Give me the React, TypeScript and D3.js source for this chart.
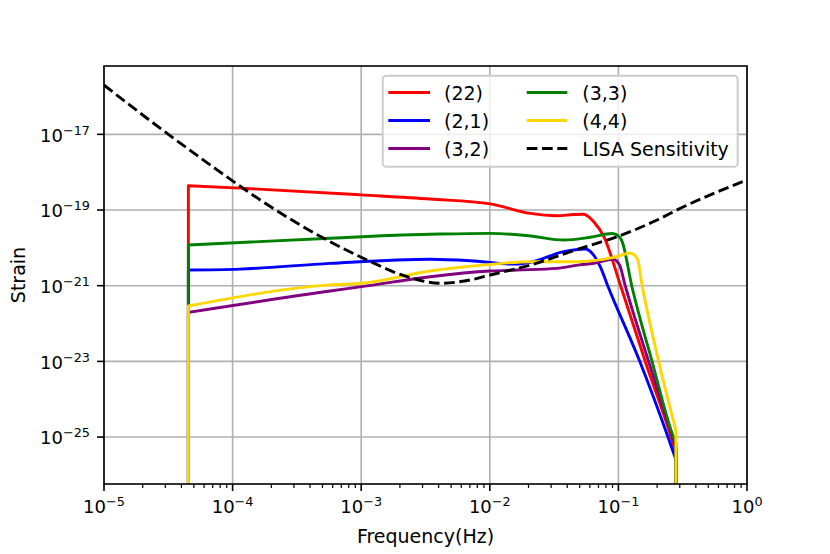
import React from 'react';
import * as d3 from 'd3';

const W = 830;
const H = 554;
const PLOT = { left: 104, top: 66, right: 747, bottom: 484 };

const xDomain = [1e-5, 1];
const yDomain = [5.75e-27, 6.4e-16];

const xTickValues = [1e-5, 1e-4, 1e-3, 1e-2, 1e-1, 1];
const xTickExps = ['−5', '−4', '−3', '−2', '−1', '0'];
const yTickValues = [1e-17, 1e-19, 1e-21, 1e-23, 1e-25];
const yTickExps = ['−17', '−19', '−21', '−23', '−25'];

// (22)
const f22 = [4.53e-5, 1.14e-4, 1.01e-3, 3.44e-3, 1.01e-2, 2.07e-2, 3.33e-2, 4.47e-2, 5.37e-2, 6.43e-2, 7.69e-2, 1.04e-1, 0.162, 0.257, 0.28];
const h22 = [4.39e-19, 3.8e-19, 2.51e-19, 1.95e-19, 1.45e-19, 8.13e-20, 7.08e-20, 7.59e-20, 7.76e-20, 4.9e-20, 2.0e-20, 1.0e-21, 9.77e-24, 1.0e-25, 3.8e-26];
// (2,1)
const f21 = [4.53e-5, 1.14e-4, 5.74e-4, 3.44e-3, 7.05e-3, 1.53e-2, 2.07e-2, 3.75e-2, 5.53e-2, 6.24e-2, 7.24e-2, 8.26e-2, 0.147, 0.243, 0.28];
const h21 = [2.6e-21, 2.75e-21, 3.89e-21, 5.01e-21, 4.57e-21, 3.72e-21, 4.17e-21, 7.94e-21, 9.33e-21, 7.24e-21, 3.16e-21, 1.0e-21, 9.77e-24, 1.0e-25, 2.51e-26];
// (3,2)
const f32 = [4.53e-5, 5.74e-4, 1.01e-3, 3.44e-3, 1.01e-2, 1.63e-2, 3.33e-2, 5.01e-2, 6.43e-2, 9.12e-2, 0.102, 0.113, 0.172, 0.263, 0.28];
const h32 = [1.98e-22, 7.24e-22, 9.42e-22, 1.73e-21, 2.44e-21, 2.6e-21, 2.88e-21, 3.55e-21, 3.91e-21, 5.01e-21, 3.55e-21, 1.0e-21, 9.77e-24, 1.0e-25, 5.13e-26];
// (3,3)
const f33 = [4.53e-5, 5.74e-4, 1.01e-3, 4.12e-3, 1.01e-2, 2.07e-2, 3.75e-2, 6.05e-2, 8.93e-2, 9.77e-2, 0.107, 0.127, 0.183, 0.268, 0.28];
const h33 = [1.19e-20, 1.79e-20, 1.97e-20, 2.32e-20, 2.42e-20, 2.06e-20, 1.61e-20, 1.91e-20, 2.4e-20, 2.19e-20, 1.46e-20, 1.0e-21, 9.77e-24, 1.0e-25, 6.92e-26];
// (4,4)
const f44 = [4.53e-5, 5.74e-4, 1.01e-3, 3.44e-3, 1.01e-2, 2.07e-2, 4.76e-2, 9.18e-2, 0.124, 0.14, 0.153, 0.206, 0.28];
const h44 = [2.91e-22, 1.05e-21, 1.16e-21, 2.44e-21, 3.67e-21, 4.31e-21, 4.31e-21, 5.62e-21, 7.18e-21, 5.3e-21, 1.0e-21, 9.77e-24, 1.51e-25];
// LISA sensitivity
const fLisa = [1e-5, 2.89e-5, 7.53e-5, 1.64e-4, 5.41e-4, 1.11e-3, 2.27e-3, 4.12e-3, 7.05e-3, 1.01e-2, 2.07e-2, 5.06e-2, 9.77e-2, 0.2, 0.303, 1];
const hLisa = [2.0e-16, 1.26e-17, 1.17e-18, 1.84e-19, 1.61e-20, 4.78e-21, 1.73e-21, 1.16e-21, 1.42e-21, 1.92e-21, 3.52e-21, 9.73e-21, 1.97e-20, 5.45e-20, 1.11e-19, 6.21e-19];

const seriesNames = ['(22)', '(2,1)', '(3,2)', '(3,3)', '(4,4)'];
const seriesColors = ['#ff0000', '#0000ff', '#800080', '#008000', '#ffd700'];
const seriesF = [f22, f21, f32, f33, f44];
const seriesH = [h22, h21, h32, h33, h44];
const lisaName = 'LISA Sensitivity';

const FONT = 'DejaVu Sans, Verdana, sans-serif';

export default function App() {
  const x = d3.scaleLog().domain(xDomain).range([PLOT.left, PLOT.right]);
  const y = d3.scaleLog().domain(yDomain).range([PLOT.bottom, PLOT.top]);

  const line = d3
    .line<[number, number]>()
    .x((d) => x(d[0]))
    .y((d) => y(d[1]))
    .curve(d3.curveMonotoneX);

  const seriesPath = (fs: number[], hs: number[]) => {
    const pts: [number, number][] = fs.map((f, i) => [f, hs[i]]);
    const body = line(pts) || '';
    const x0 = x(fs[0]);
    const x1 = x(fs[fs.length - 1]);
    const yb = PLOT.bottom + 10;
    return `M${x0},${yb}L` + body.slice(1) + `L${x1},${yb}`;
  };

  const lisaPts: [number, number][] = fLisa.map((f, i) => [f, hLisa[i]]);
  const lisaPath = line(lisaPts) || '';

  const minorX: number[] = [];
  for (let k = -5; k < 0; k++) {
    for (let m = 2; m <= 9; m++) minorX.push(m * Math.pow(10, k));
  }

  const lw = 2.9;
  const dash = '10.7,4.6';

  const legendRows = [92.5, 120.5, 148.5];
  const col1Handle = [388.3, 430];
  const col2Handle = [526.7, 567.3];
  const col1Text = 444;
  const col2Text = 582.3;
  const legendItems = [
    { name: seriesNames[0], color: seriesColors[0], col: 0, row: 0, dashed: false },
    { name: seriesNames[1], color: seriesColors[1], col: 0, row: 1, dashed: false },
    { name: seriesNames[2], color: seriesColors[2], col: 0, row: 2, dashed: false },
    { name: seriesNames[3], color: seriesColors[3], col: 1, row: 0, dashed: false },
    { name: seriesNames[4], color: seriesColors[4], col: 1, row: 1, dashed: false },
    { name: lisaName, color: '#000000', col: 1, row: 2, dashed: true },
  ];

  return (
    <svg
      width={W}
      height={H}
      style={{ position: 'absolute', left: 0, top: 0, background: '#ffffff' }}
      fontFamily={FONT}
    >
      <defs>
        <clipPath id="plotclip">
          <rect x={PLOT.left} y={PLOT.top} width={PLOT.right - PLOT.left} height={PLOT.bottom - PLOT.top} />
        </clipPath>
      </defs>
      <rect x={0} y={0} width={W} height={H} fill="#ffffff" />

      {/* grid */}
      <g stroke="#b0b0b0" strokeWidth={1.6}>
        {xTickValues.map((v, i) => (
          <line key={'gx' + i} x1={x(v)} x2={x(v)} y1={PLOT.top} y2={PLOT.bottom} />
        ))}
        {yTickValues.map((v, i) => (
          <line key={'gy' + i} x1={PLOT.left} x2={PLOT.right} y1={y(v)} y2={y(v)} />
        ))}
      </g>

      {/* series */}
      <g clipPath="url(#plotclip)" fill="none" strokeLinejoin="round" strokeLinecap="butt">
        {seriesF.map((fs, i) => (
          <path key={'s' + i} d={seriesPath(fs, seriesH[i])} stroke={seriesColors[i]} strokeWidth={lw} />
        ))}
        <path d={lisaPath} stroke="#000000" strokeWidth={lw} strokeDasharray={dash} />
      </g>

      {/* spines */}
      <rect
        x={PLOT.left}
        y={PLOT.top}
        width={PLOT.right - PLOT.left}
        height={PLOT.bottom - PLOT.top}
        fill="none"
        stroke="#000000"
        strokeWidth={1.6}
      />

      {/* x ticks */}
      <g stroke="#000000">
        {xTickValues.map((v, i) => (
          <line key={'xt' + i} x1={x(v)} x2={x(v)} y1={PLOT.bottom} y2={PLOT.bottom + 7} strokeWidth={1.6} />
        ))}
        {minorX.map((v, i) => (
          <line key={'xm' + i} x1={x(v)} x2={x(v)} y1={PLOT.bottom} y2={PLOT.bottom + 4} strokeWidth={1.2} />
        ))}
        {yTickValues.map((v, i) => (
          <line key={'yt' + i} x1={PLOT.left - 7} x2={PLOT.left} y1={y(v)} y2={y(v)} strokeWidth={1.6} />
        ))}
      </g>

      {/* tick labels */}
      <g fill="#000000" fontSize={18}>
        {xTickValues.map((v, i) => (
          <text key={'xl' + i} x={x(v)} y={PLOT.bottom + 29.3} textAnchor="middle">
            10
            <tspan fontSize={12.8} dy={-7}>
              {xTickExps[i]}
            </tspan>
          </text>
        ))}
        {yTickValues.map((v, i) => (
          <text key={'yl' + i} x={90} y={y(v) + 7.4} textAnchor="end">
            10
            <tspan fontSize={12.8} dy={-7}>
              {yTickExps[i]}
            </tspan>
          </text>
        ))}
      </g>

      {/* axis labels */}
      <text x={(PLOT.left + PLOT.right) / 2} y={543.3} textAnchor="middle" fontSize={19} fill="#000">
        Frequency(Hz)
      </text>
      <text
        transform={`translate(25,${(PLOT.top + PLOT.bottom) / 2}) rotate(-90)`}
        textAnchor="middle"
        fontSize={19}
        fill="#000"
      >
        Strain
      </text>

      {/* legend */}
      <rect
        x={382.7}
        y={75.7}
        width={355}
        height={91}
        rx={3.5}
        ry={3.5}
        fill="#ffffff"
        fillOpacity={0.8}
        stroke="#cccccc"
        strokeWidth={1.9}
      />
      {legendItems.map((it, i) => {
        const hx = it.col === 0 ? col1Handle : col2Handle;
        const tx = it.col === 0 ? col1Text : col2Text;
        const ry = legendRows[it.row];
        return (
          <g key={'lg' + i}>
            <line
              x1={hx[0]}
              x2={hx[1]}
              y1={ry}
              y2={ry}
              stroke={it.color}
              strokeWidth={lw}
              strokeDasharray={it.dashed ? dash : undefined}
            />
            <text x={tx} y={ry + 7} fontSize={19} fill="#000">
              {it.name}
            </text>
          </g>
        );
      })}
    </svg>
  );
}
